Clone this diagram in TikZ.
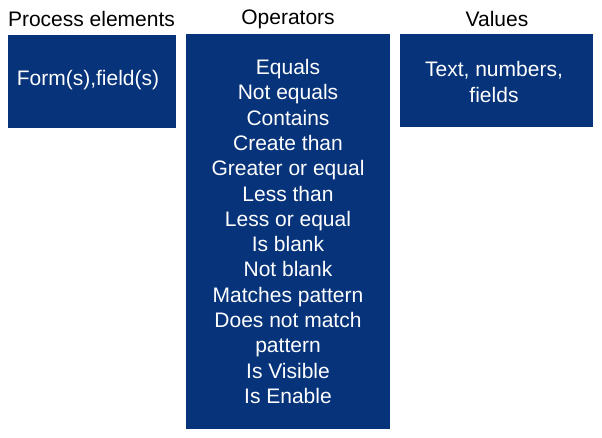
\documentclass[tikz,border=0pt]{standalone}
\usepackage{fontspec}
\setmainfont{Liberation Sans}
\definecolor{boxblue}{RGB}{6,51,122}
\begin{document}
\begin{tikzpicture}[x=1pt,y=-1pt,
  bluebox/.style={fill=boxblue,draw=none},
  boxtext/.style={text=white,font=\fontsize{21}{25.3}\selectfont,align=center,inner sep=0pt},
  headtext/.style={text=black,font=\fontsize{21}{25}\selectfont,inner sep=0pt}]
\useasboundingbox (0,0) rectangle (602,438);
\fill[bluebox] (8,35) rectangle (176,128);
\fill[bluebox] (186,34) rectangle (390,429);
\fill[bluebox] (400,34) rectangle (593,127);
\node[headtext] (h1) at (91.5,19) {Process elements};
\node[headtext] (h2) at (288,19) {Operators};
\node[headtext] (h3) at (497,19) {Values};
\node[boxtext] (t1) at (88,80) {Form(s),field(s)};
\node[boxtext] (t2) at (288,231.5) {Equals\\Not equals\\Contains\\Create than\\Greater or equal\\Less than\\Less or equal\\Is blank\\Not blank\\Matches pattern\\Does not match\\pattern\\Is Visible\\Is Enable};
\node[boxtext] (t3) at (494,82) {Text, numbers,\\fields};
\end{tikzpicture}
\end{document}
